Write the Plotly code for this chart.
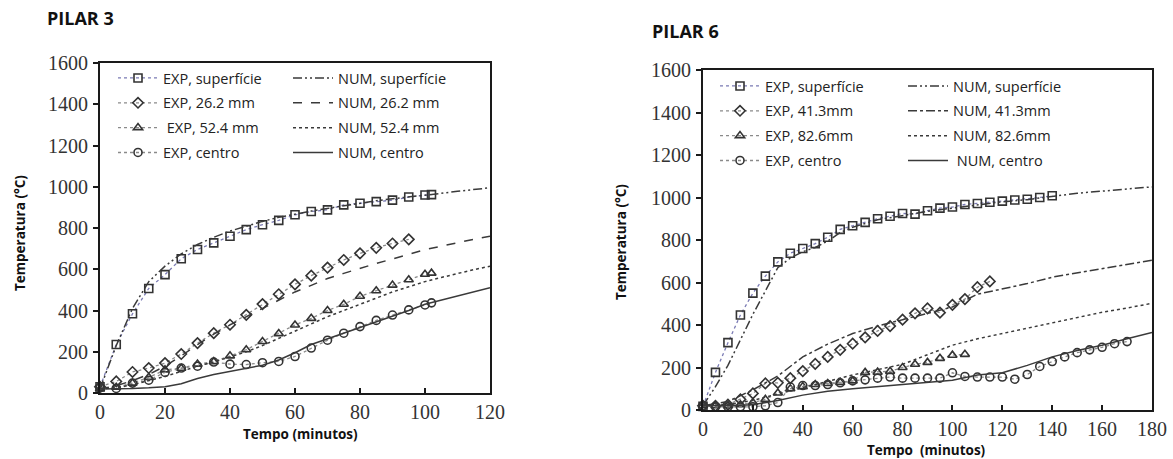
import plotly.graph_objects as go

# ---------------- PILAR 3 data ----------------
t_exp3 = [0, 5, 10, 15, 20, 25, 30, 35, 40, 45, 50, 55, 60, 65, 70, 75, 80, 85, 90, 95, 100, 102]
exp_sup3 = [30, 235, 384, 507, 574, 651, 696, 728, 760, 792, 816, 837, 864, 880, 888, 912, 920, 928, 935, 950, 960, 962]
t_d3 = [0, 5, 10, 15, 20, 25, 30, 35, 40, 45, 50, 55, 60, 65, 70, 75, 80, 85, 90, 95]
exp_262 = [30, 56, 102, 121, 145, 189, 242, 290, 331, 379, 431, 479, 527, 569, 608, 645, 677, 704, 725, 745]
exp_524 = [20, 28, 48, 76, 112, 120, 140, 152, 180, 210, 250, 288, 330, 362, 400, 430, 469, 496, 523, 549, 576, 581]
exp_cen3 = [25, 22, 48, 62, 100, 121, 130, 150, 140, 138, 147, 153, 177, 218, 256, 290, 322, 352, 378, 403, 427, 437]

t_num3 = [0, 5, 10, 15, 20, 25, 30, 35, 40, 45, 50, 55, 60, 65, 70, 75, 80, 85, 90, 95, 100, 105, 110, 115, 120]
num_sup3 = [20, 230, 410, 540, 615, 675, 720, 755, 785, 810, 832, 852, 868, 882, 895, 908, 920, 932, 942, 950, 958, 968, 978, 987, 995]
num_262 = [20, 35, 60, 90, 130, 180, 235, 285, 330, 370, 410, 450, 490, 522, 555, 580, 605, 628, 650, 672, 695, 712, 730, 745, 760]
num_524 = [20, 25, 40, 60, 80, 105, 130, 150, 175, 200, 230, 265, 300, 335, 370, 400, 430, 460, 490, 515, 540, 560, 580, 598, 615]
num_cen3 = [20, 20, 22, 25, 30, 45, 70, 90, 105, 118, 135, 160, 195, 235, 262, 290, 318, 345, 372, 400, 430, 450, 470, 490, 510]

# ---------------- PILAR 6 data ----------------
t_sup6 = list(range(0, 145, 5))
exp_sup6 = [17, 177, 317, 447, 550, 630, 697, 738, 760, 783, 813, 850, 867, 883, 900, 912, 925, 922, 938, 950,
            955, 967, 972, 978, 983, 988, 992, 1000, 1008]
t_d6 = list(range(0, 120, 5))
exp_413 = [20, 20, 25, 50, 78, 125, 128, 150, 183, 217, 250, 283, 312, 342, 372, 395, 425, 455, 478, 458, 495, 522, 578, 605]
t_tri6 = list(range(0, 110, 5))
exp_826 = [20, 20, 20, 25, 35, 50, 80, 100, 110, 120, 125, 130, 137, 177, 178, 182, 200, 215, 224, 243, 258, 262]
t_cen6 = list(range(0, 175, 5))
exp_cen6 = [20, 15, 15, 15, 15, 20, 35, 108, 115, 115, 120, 128, 137, 142, 150, 155, 150, 150, 150, 150, 175,
            158, 155, 155, 155, 145, 167, 205, 228, 250, 270, 283, 295, 312, 322]

t_nsup6 = [0, 5, 10, 15, 20, 25, 30, 35, 40, 45, 50, 55, 60, 70, 80, 90, 100, 110, 120, 130, 140, 150, 160, 170, 180]
num_sup6 = [20, 110, 210, 330, 450, 560, 670, 715, 745, 765, 795, 835, 860, 895, 915, 935, 950, 965, 980, 990, 1005, 1020, 1030, 1040, 1050]
t_num6 = list(range(0, 190, 10))
num_413 = [20, 40, 95, 160, 250, 310, 360, 395, 425, 455, 485, 545, 570, 595, 625, 645, 665, 685, 705]
num_826 = [20, 25, 45, 75, 105, 135, 165, 190, 215, 260, 305, 335, 360, 385, 410, 435, 460, 480, 502]
num_cen6 = [20, 20, 25, 45, 70, 88, 100, 110, 120, 128, 140, 165, 175, 210, 250, 280, 305, 335, 365]

W, H = 1173, 459
MK = "#333333"
EXP_BLUE = "#7a7ab4"
EXP_GRAY = "#8a8a8a"
NUM_COL = "#3a3a3a"
DASHDOTDOT = "9px,3px,2px,3px,2px,3px"

fig = go.Figure()

def exp_trace(x, y, name, sym, lcol, xa, ya, leg, grp):
    fig.add_trace(go.Scatter(
        x=x, y=y, name=name, mode="lines+markers", xaxis=xa, yaxis=ya,
        legend=leg, legendgroup=grp,
        line=dict(color=lcol, width=1.3, dash="dot"),
        marker=dict(symbol=sym, size=8, color=MK, line=dict(width=1.6, color=MK)),
        cliponaxis=False,
    ))

def num_trace(x, y, name, dash, xa, ya, leg, grp):
    fig.add_trace(go.Scatter(
        x=x, y=y, name=name, mode="lines", xaxis=xa, yaxis=ya,
        legend=leg, legendgroup=grp,
        line=dict(color=NUM_COL, width=1.5, dash=dash),
    ))

# PILAR 3
exp_trace(t_exp3, exp_sup3, "EXP, superfície", "square-open", EXP_BLUE, "x", "y", "legend", "a1")
exp_trace(t_d3, exp_262, "EXP, 26.2 mm", "diamond-open", EXP_GRAY, "x", "y", "legend", "a2")
exp_trace(t_exp3, exp_524, " EXP, 52.4 mm", "triangle-up-open", EXP_GRAY, "x", "y", "legend", "a3")
exp_trace(t_exp3, exp_cen3, "EXP, centro", "circle-open", EXP_GRAY, "x", "y", "legend", "a4")
num_trace(t_num3, num_sup3, "NUM, superfície", DASHDOTDOT, "x", "y", "legend2", "b1")
num_trace(t_num3, num_262, "NUM, 26.2 mm", "dash", "x", "y", "legend2", "b2")
num_trace(t_num3, num_524, "NUM, 52.4 mm", "dot", "x", "y", "legend2", "b3")
num_trace(t_num3, num_cen3, "NUM, centro", "solid", "x", "y", "legend2", "b4")

# PILAR 6
exp_trace(t_sup6, exp_sup6, "EXP, superfície", "square-open", EXP_BLUE, "x2", "y2", "legend3", "c1")
exp_trace(t_d6, exp_413, "EXP, 41.3mm", "diamond-open", EXP_GRAY, "x2", "y2", "legend3", "c2")
exp_trace(t_tri6, exp_826, "EXP, 82.6mm", "triangle-up-open", EXP_GRAY, "x2", "y2", "legend3", "c3")
exp_trace(t_cen6, exp_cen6, "EXP, centro", "circle-open", EXP_GRAY, "x2", "y2", "legend3", "c4")
num_trace(t_nsup6, num_sup6, "NUM, superfície", DASHDOTDOT, "x2", "y2", "legend4", "d1")
num_trace(t_num6, num_413, "NUM, 41.3mm", "dashdot", "x2", "y2", "legend4", "d2")
num_trace(t_num6, num_826, "NUM, 82.6mm", "dot", "x2", "y2", "legend4", "d3")
num_trace(t_num6, num_cen6, " NUM, centro", "solid", "x2", "y2", "legend4", "d4")

def px(xp):
    return xp / W

def py(yp):
    return 1 - yp / H

tickfont = dict(family="Liberation Serif", size=20, color="#333333")
axcommon = dict(showgrid=False, zeroline=False, showline=True, linecolor="#1a1a1a", linewidth=2,
                mirror=True, tickfont=tickfont, tickcolor="#1a1a1a", ticklen=5, tickwidth=1.5,
                automargin=False)

fig.update_layout(
    width=W, height=H, margin=dict(l=0, r=0, t=0, b=0),
    paper_bgcolor="white", plot_bgcolor="white", showlegend=True,
    xaxis=dict(domain=[px(100), px(490)], range=[0, 120], dtick=20, ticks="inside", anchor="y",
               ticklabelstandoff=0, **axcommon),
    yaxis=dict(domain=[py(393), py(63)], range=[0, 1600], dtick=200, ticks="outside", anchor="x",
               ticklabelstandoff=1, **axcommon),
    xaxis2=dict(domain=[px(703), px(1152)], range=[0, 180], dtick=20, ticks="inside", anchor="y2",
                ticklabelstandoff=0, **axcommon),
    yaxis2=dict(domain=[py(410), py(70)], range=[0, 1600], dtick=200, ticks="outside", anchor="x2",
                ticklabelstandoff=1, **axcommon),
)

legfont = dict(family="Open Sans", size=14.5, color="#222222")
legcommon = dict(orientation="v", bgcolor="rgba(0,0,0,0)", borderwidth=0, font=legfont,
                 itemwidth=40, traceorder="grouped", tracegroupgap=3, xanchor="left", yanchor="top",
                 itemclick=False)
fig.update_layout(
    legend=dict(x=px(113), y=py(62), **legcommon),
    legend2=dict(x=px(288), y=py(62), **legcommon),
    legend3=dict(x=px(715), y=py(70), **legcommon),
    legend4=dict(x=px(903), y=py(70), **legcommon),
)

ann_font = dict(family="Open Sans", size=13.5, color="#111111")
fig.add_annotation(text="<b>PILAR 3</b>", x=px(45), y=py(18), xref="paper", yref="paper",
                   xanchor="left", yanchor="middle", showarrow=False,
                   font=dict(family="Open Sans", size=18, color="#111111"))
fig.add_annotation(text="<b>PILAR 6</b>", x=px(650), y=py(31), xref="paper", yref="paper",
                   xanchor="left", yanchor="middle", showarrow=False,
                   font=dict(family="Open Sans", size=18, color="#111111"))
fig.add_annotation(text="<b>Tempo (minutos)</b>", x=px(300), y=py(434), xref="paper", yref="paper",
                   xanchor="center", yanchor="middle", showarrow=False, font=ann_font)
fig.add_annotation(text="<b>Tempo  (minutos)</b>", x=px(926), y=py(450), xref="paper", yref="paper",
                   xanchor="center", yanchor="middle", showarrow=False, font=ann_font)
fig.add_annotation(text="<b>Temperatura (°C)</b>", x=px(20), y=py(233), xref="paper", yref="paper",
                   xanchor="center", yanchor="middle", showarrow=False, textangle=-90, font=ann_font)
fig.add_annotation(text="<b>Temperatura (°C)</b>", x=px(621), y=py(242), xref="paper", yref="paper",
                   xanchor="center", yanchor="middle", showarrow=False, textangle=-90, font=ann_font)

fig.write_html("out.html")
